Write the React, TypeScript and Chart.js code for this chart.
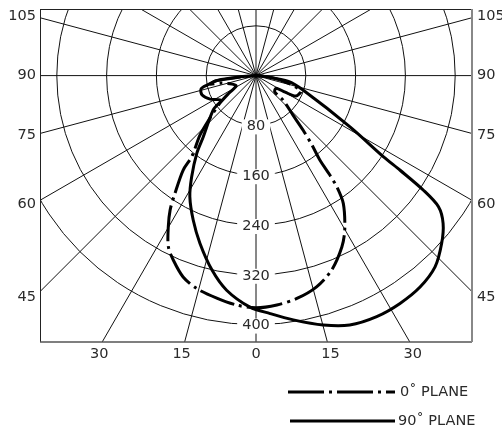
import React, { useEffect, useRef } from 'react';
import { Chart, registerables } from 'chart.js';

Chart.register(...registerables);

// Polar luminous-intensity data: angle from nadir (deg, + = right), intensity (cd)
const plane0Angles = [90, 82.9, 76.8, 71.0, 62.9, 60.4, 58.0, 49.0, 47.8, 43.1, 40.8, 38.9, 37.1, 36.6, 36.0, 34.3, 29.9, 26.6, 21.3, 16.0, 10.4, 5.2, 0, -4.8, -10.0, -15.6, -19.9, -24.1, -27.1, -30.1, -32.6, -34.5, -37.6, -38.4, -43.3, -47.3, -52.6, -57.0, -62.3, -70.5, -77.6, -79.5, -82.4, -83.4, -84.8, -88];
const plane0Values = [0, 26, 53, 76, 72, 54, 38, 40, 59, 87, 116, 143, 170, 199, 221, 249, 286, 308, 335, 353, 364, 370, 373, 370, 363, 355, 344, 325, 309, 281, 256, 230, 192, 166, 131, 101, 73, 52, 36, 41, 56, 75, 66, 42, 18, 0];

const plane90Angles = [90, 84.9, 79.8, 72.9, 61.4, 57.5, 56.7, 55.6, 54.3, 51.7, 47.9, 43.1, 37.8, 32.3, 26.6, 20.6, 15.1, 8.7, 3.4, -1.5, -7.8, -12.8, -18.5, -23.5, -28.6, -32.4, -37.3, -40.7, -51.3, -55.0, -62.9, -70.1, -76.2, -79.0, -83.2, -85.2, -88];
const plane90Values = [0, 14, 53, 79, 172, 243, 277, 326, 361, 383, 402, 421, 430, 433, 433, 428, 415, 397, 383, 372, 348, 320, 284, 253, 222, 193, 157, 130, 88, 69, 83, 92, 91, 80, 61, 29, 0];

const ringValues = [80, 160, 240, 320, 400];
const radialStepDeg = 15;
const sideTickAngles = [105, 90, 75, 60, 45];
const bottomTickAngles = [-30, -15, 0, 15, 30];
const bottomTickLabels = ['30', '15', '0', '15', '30'];
const legendLabels = ['0˚ PLANE', '90˚ PLANE'];

const X_MIN = -347;
const X_MAX = 347;
const Y_MIN = -428;
const Y_MAX = 107;

const FONT = '14.5px "DejaVu Sans", "Liberation Sans", sans-serif';
const TEXT_COLOR = '#2a2a2a';
const DASHDOT = [36, 5, 3, 5];

function toXY(angles: number[], values: number[]) {
  return values.map((v, i) => {
    const a = (angles[i] * Math.PI) / 180;
    return { x: v * Math.sin(a), y: -v * Math.cos(a) };
  });
}

const polarPlugin = {
  id: 'polarGrid',
  beforeDatasetsDraw(chart: any) {
    const { ctx, chartArea, scales } = chart;
    const { left, right, top, bottom } = chartArea;
    const xs = scales.x;
    const ys = scales.y;
    const cx = xs.getPixelForValue(0);
    const cy = ys.getPixelForValue(0);
    const k = (xs.getPixelForValue(100) - cx) / 100;

    ctx.save();
    ctx.beginPath();
    ctx.rect(left, top, right - left, bottom - top);
    ctx.clip();
    ctx.strokeStyle = '#111';
    ctx.lineWidth = 1;
    ringValues.forEach((r) => {
      ctx.beginPath();
      ctx.arc(cx, cy, r * k, 0, Math.PI * 2);
      ctx.stroke();
    });
    for (let a = 0; a < 360; a += radialStepDeg) {
      const rad = (a * Math.PI) / 180;
      ctx.beginPath();
      ctx.moveTo(cx, cy);
      ctx.lineTo(cx + 2000 * Math.sin(rad), cy + 2000 * Math.cos(rad));
      ctx.stroke();
    }
    ctx.restore();

    // frame
    ctx.save();
    ctx.strokeStyle = '#222';
    ctx.lineWidth = 1;
    ctx.beginPath();
    ctx.moveTo(left + 0.5, top);
    ctx.lineTo(left + 0.5, bottom);
    ctx.moveTo(left, top + 0.5);
    ctx.lineTo(right, top + 0.5);
    ctx.stroke();
    ctx.strokeStyle = '#555';
    ctx.lineWidth = 1.5;
    ctx.beginPath();
    ctx.moveTo(left, bottom);
    ctx.lineTo(right, bottom);
    ctx.stroke();
    ctx.strokeStyle = '#888';
    ctx.lineWidth = 2;
    ctx.beginPath();
    ctx.moveTo(right, top);
    ctx.lineTo(right, bottom);
    ctx.stroke();
    ctx.restore();

    // ring labels
    ctx.save();
    ctx.font = FONT;
    ctx.textAlign = 'center';
    ctx.textBaseline = 'middle';
    ringValues.forEach((r) => {
      const t = String(r);
      const w = ctx.measureText(t).width;
      const py = cy + r * k + 1;
      ctx.fillStyle = '#fff';
      ctx.fillRect(cx - w / 2 - 5, py - 7, w + 10, 15);
      ctx.fillStyle = TEXT_COLOR;
      ctx.fillText(t, cx, py);
    });

    // side labels
    const dxPx = cx - left;
    sideTickAngles.forEach((a) => {
      const rad = (a * Math.PI) / 180;
      const py = cy + (dxPx * Math.cos(rad)) / Math.sin(rad) + (90 - a) / 8;
      ctx.textAlign = 'right';
      ctx.fillText(String(a), left - 4, py);
      ctx.textAlign = 'left';
      ctx.fillText(String(a), right + 5, py);
    });

    // bottom labels
    ctx.textAlign = 'center';
    bottomTickAngles.forEach((a, i) => {
      const rad = (a * Math.PI) / 180;
      const px = cx + (bottom - cy) * Math.tan(rad) + Math.sign(a) * 3;
      ctx.fillText(bottomTickLabels[i], px, bottom + 12);
    });
    ctx.restore();
  },
  afterDraw(chart: any) {
    const { ctx } = chart;
    ctx.save();
    ctx.strokeStyle = '#000';
    ctx.lineWidth = 3;
    ctx.setLineDash(DASHDOT);
    ctx.beginPath();
    ctx.moveTo(288, 392);
    ctx.lineTo(395, 392);
    ctx.stroke();
    ctx.setLineDash([]);
    ctx.beginPath();
    ctx.moveTo(290, 421);
    ctx.lineTo(395, 421);
    ctx.stroke();
    ctx.font = FONT;
    ctx.fillStyle = TEXT_COLOR;
    ctx.textAlign = 'left';
    ctx.textBaseline = 'middle';
    ctx.fillText(legendLabels[0], 400, 392);
    ctx.fillText(legendLabels[1], 398, 421);
    ctx.restore();
  },
};

export default function App() {
  const ref = useRef<HTMLCanvasElement | null>(null);
  useEffect(() => {
    if (!ref.current) return;
    const chart = new Chart(ref.current, {
      type: 'scatter',
      data: {
        datasets: [
          {
            label: legendLabels[0],
            data: toXY(plane0Angles, plane0Values),
            showLine: true,
            borderColor: '#000',
            borderWidth: 3,
            borderDash: DASHDOT,
            pointRadius: 0,
            tension: 0.3,
            fill: false,
          },
          {
            label: legendLabels[1],
            data: toXY(plane90Angles, plane90Values),
            showLine: true,
            borderColor: '#000',
            borderWidth: 3,
            pointRadius: 0,
            tension: 0.3,
            fill: false,
          },
        ],
      },
      options: {
        animation: false,
        responsive: false,
        maintainAspectRatio: false,
        layout: { padding: { left: 40, right: 30, top: 9, bottom: 87 } },
        plugins: { legend: { display: false }, tooltip: { enabled: false } },
        scales: {
          x: { type: 'linear', min: X_MIN, max: X_MAX, display: false },
          y: { type: 'linear', min: Y_MIN, max: Y_MAX, display: false },
        },
      },
      plugins: [polarPlugin],
    });
    return () => chart.destroy();
  }, []);
  return (
    <div style={{ position: 'absolute', left: 0, top: 0, width: 502, height: 429, background: '#fff' }}>
      <canvas ref={ref} width={502} height={429} />
    </div>
  );
}
